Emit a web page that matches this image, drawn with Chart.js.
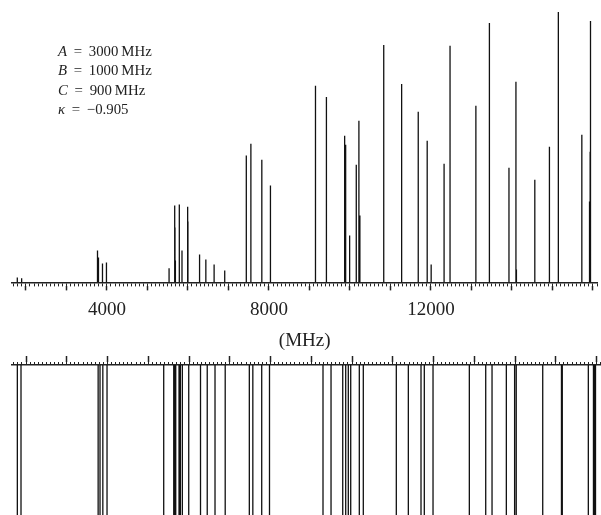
<!DOCTYPE html>
<html>
<head>
<meta charset="utf-8">
<script src="https://cdn.jsdelivr.net/npm/chart.js@4.4.1/dist/chart.umd.min.js"></script>
<style>
  body { margin: 0; background: #fff; }
  #wrap { position: relative; width: 601px; height: 515px; overflow: hidden; }
  #topChart { position: absolute; left: 0; top: 0; }
  #bottomChart { position: absolute; left: 0; top: 352px; }
  .params { position: absolute; left: 58px; top: 42px; font-family: 'Liberation Serif', serif;
            font-size: 14.8px; line-height: 19.4px; color: #222; white-space: nowrap; }
  .params .eq { padding: 0 3px; }
</style>
</head>
<body>
<div id="wrap">
  <canvas id="topChart" width="601" height="352"></canvas>
  <canvas id="bottomChart" width="601" height="163"></canvas>
  <div class="params">
    <div><i>A</i> <span class="eq">=</span> 3000&#8201;MHz</div>
    <div><i>B</i> <span class="eq">=</span> 1000&#8201;MHz</div>
    <div><i>C</i> <span class="eq">=</span> 900&#8201;MHz</div>
    <div><i>κ</i> <span class="eq">=</span> −0.905</div>
  </div>
</div>
<script>
// frequency axis range (MHz)
const freqMin = 1656;
const freqMax = 16110;
const minorStep = 100;
const majorStep = 1000;
const labelledTicks = [4000, 8000, 12000];

// upper panel: line positions (MHz) and relative intensities (%)
const topFreqs = [1787, 1894, 3767, 3791, 3890, 3988, 5534, 5673, 5680, 5690,
  5787, 5853, 5993, 6000, 6287, 6442, 6646, 6908, 7441, 7554,
  7824, 8037, 9149, 9419, 9869, 9894, 9992, 10156, 10221, 10245,
  10834, 11276, 11686, 11907, 12005, 12324, 12471, 13109, 13443, 13926,
  14098, 14110, 14564, 14925, 15145, 15725, 15915, 15930, 15939];
const topIntensity = [1.8, 1.5, 11.8, 9.2, 7.0, 7.4, 5.2, 28.4, 20.3, 8.1,
  28.8, 11.8, 28.0, 22.5, 10.3, 8.5, 6.6, 4.4, 46.9, 51.3,
  45.4, 35.8, 72.7, 68.6, 54.2, 50.9, 17.3, 43.5, 59.8, 24.7,
  87.8, 73.4, 63.1, 52.4, 6.6, 43.9, 87.5, 65.3, 95.9, 42.4,
  74.2, 4.8, 38.0, 50.2, 100, 54.6, 29.9, 48.3, 96.7];

// lower panel: line positions (MHz), all drawn full height
const bottomFreqs = [1787, 1877, 3770, 3816, 3885, 3988, 5379, 5625, 5650, 5674,
  5755, 5787, 5836, 5993, 6282, 6447, 6638, 6888, 7480, 7566,
  7784, 7975, 9288, 9485, 9772, 9845, 9909, 9968, 10179, 10277,
  11087, 11382, 11693, 11774, 11988, 12879, 13281, 13436, 13787, 13990,
  14030, 14680, 15140, 15160, 15799, 15925, 15950, 15975];

function sticks(freqs, heights) {
  const pts = [];
  freqs.forEach((f, i) => {
    pts.push({ x: f, y: 0 }, { x: f, y: heights ? heights[i] : 1 }, { x: f, y: null });
  });
  return pts;
}

// tick list at every multiple of step inside the axis range
function tickValues(step) {
  const out = [];
  for (let v = Math.ceil(freqMin / step) * step; v <= freqMax; v += step) out.push({ value: v });
  return out;
}

function freqScales(position, minorLen, majorLen, showLabels) {
  return {
    x: {
      type: 'linear', position: position, min: freqMin, max: freqMax, weight: 0,
      afterBuildTicks: s => { s.ticks = tickValues(minorStep); },
      ticks: { display: false, autoSkip: false },
      grid: { drawOnChartArea: false, tickLength: minorLen, tickWidth: 1, tickColor: '#222' },
      border: { color: '#222', width: 1.5 }
    },
    x2: {
      type: 'linear', position: position, min: freqMin, max: freqMax, weight: 1,
      afterBuildTicks: s => { s.ticks = tickValues(majorStep); },
      ticks: {
        display: showLabels, autoSkip: false, maxRotation: 0, padding: 8,
        color: '#222', font: { family: 'Liberation Serif', size: 19 },
        callback: v => labelledTicks.includes(v) ? String(v) : ''
      },
      grid: { drawOnChartArea: false, tickLength: majorLen, tickWidth: 1.5, tickColor: '#222' },
      border: { display: false },
      title: {
        display: showLabels, text: '(MHz)', color: '#222',
        font: { family: 'Liberation Serif', size: 19 }, padding: { top: 0, bottom: 0 }
      }
    }
  };
}

function stickChart(id, data, yMax, position, minorLen, majorLen, showLabels, padTop) {
  const scales = freqScales(position, minorLen, majorLen, showLabels);
  scales.y = { display: false, min: 0, max: yMax };
  return new Chart(document.getElementById(id).getContext('2d'), {
    type: 'line',
    data: {
      datasets: [{
        data: data,
        borderColor: '#111',
        borderWidth: 1.3,
        pointRadius: 0,
        spanGaps: false,
        tension: 0
      }]
    },
    options: {
      responsive: false,
      animation: false,
      layout: { padding: { left: 12, right: 0, top: padTop, bottom: 0 } },
      scales: scales,
      plugins: { legend: { display: false }, tooltip: { enabled: false } }
    }
  });
}

stickChart('topChart', sticks(topFreqs, topIntensity), 100, 'bottom', 4, 4, true, 12);
stickChart('bottomChart', sticks(bottomFreqs), 1, 'top', 3, 6, false, 4);
</script>
</body>
</html>
